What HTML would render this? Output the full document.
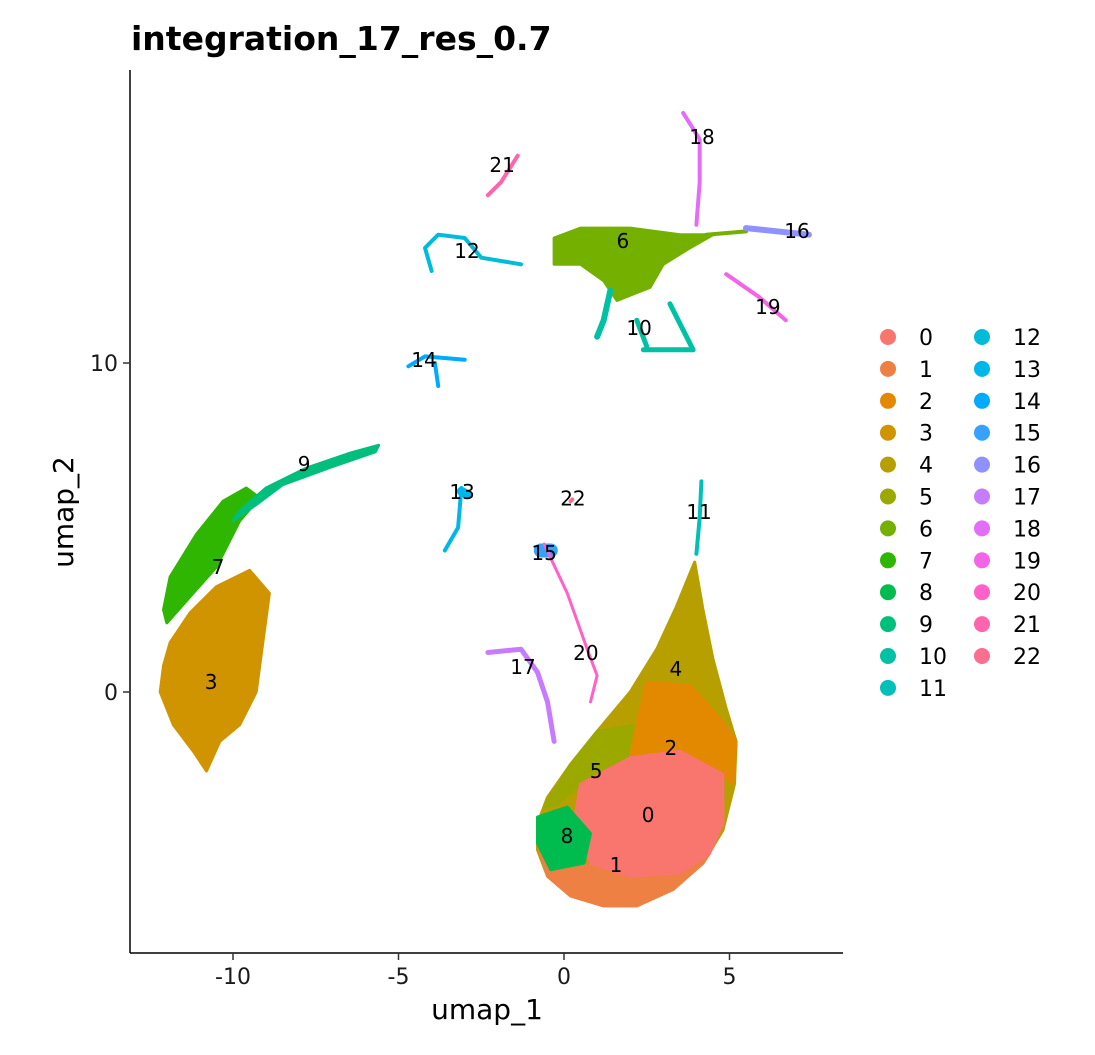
<!DOCTYPE html>
<html><head><meta charset="utf-8"><style>
body{margin:0;background:#fff;width:1095px;height:1050px;overflow:hidden}
svg text{font-family:"DejaVu Sans","Liberation Sans",sans-serif}
</style></head><body>
<svg id="chart" width="1095" height="1050" xmlns="http://www.w3.org/2000/svg">
<text x="131" y="50" font-size="33" font-weight="bold" fill="#000">integration_17_res_0.7</text>
<g id="plot"></g>
<g id="axes"></g>
<g id="legend"></g>
</svg>
<script>
const clusterIds=[0,1,2,3,4,5,6,7,8,9,10,11,12,13,14,15,16,17,18,19,20,21,22];
const clusterColors=["#F8766D","#EE8044","#E38900","#D09400","#B79F00","#9AA800","#74B000","#2FB600","#00BB4E","#00BF7D","#00C1A3","#00C0B8","#00BCD8","#00B6EB","#00ABFD","#35A2FF","#8F91FF","#C77CFF","#E26EF7","#F365E6","#FF61C9","#FF65AC","#FC6E8E"];
const xTicks=[-10,-5,0,5];
const yTicks=[0,10];
const shape4=[[3.95,3.95],[4.2,2.5],[4.5,1],[4.9,-0.5],[5.2,-1.5],[5.15,-2.8],[4.8,-4.2],[4.2,-5.2],[3.3,-6],[2.2,-6.5],[1.2,-6.5],[0.2,-6.2],[-0.5,-5.6],[-0.8,-4.8],[-0.8,-4],[-0.5,-3.2],[0.2,-2.2],[1,-1.2],[2,0],[2.8,1.3],[3.4,2.6]];
const shape5=[[1,-1.2],[2.2,-1],[2,-2],[0.5,-2.8],[-0.2,-3.4],[-0.6,-3.5],[0.2,-2.2]];
const shape2=[[2.5,0.3],[3.8,0.2],[4.7,-0.8],[5.2,-1.5],[5.1,-2.8],[4.8,-2.5],[3.5,-1.8],[2,-2],[2.2,-1]];
const shape0=[[0.5,-2.8],[2,-2],[3.5,-1.8],[4.8,-2.5],[4.8,-4],[4.4,-4.9],[3.5,-5.5],[2,-5.6],[0.8,-5.2],[0.3,-4]];
const shape1=[[-0.8,-4.6],[0.5,-5.2],[2,-5.6],[3.5,-5.5],[4.4,-4.9],[4.2,-5.2],[3.3,-6],[2.2,-6.5],[1.2,-6.5],[0.2,-6.2],[-0.5,-5.6]];
const shape8=[[-0.8,-3.8],[0.1,-3.5],[0.8,-4.3],[0.6,-5.2],[-0.4,-5.4],[-0.8,-4.6]];
const shape3=[[-11.9,1.5],[-11.3,2.4],[-10.5,3.2],[-9.5,3.7],[-8.9,3],[-9.1,1.5],[-9.3,0],[-9.8,-1],[-10.4,-1.5],[-10.8,-2.4],[-11.2,-1.8],[-11.8,-1],[-12.2,0],[-12.1,0.8]];
const shape7=[[-12,2.1],[-11.3,2.9],[-10.5,3.8],[-9.8,5.2],[-9.2,5.9],[-9.6,6.2],[-10.3,5.8],[-11.1,4.8],[-11.9,3.5],[-12.1,2.5]];
const shape9=[[-9.8,5.5],[-9,6.2],[-7.8,6.8],[-6.5,7.25],[-5.6,7.5],[-5.7,7.3],[-7,6.85],[-8.5,6.3],[-9.3,5.7],[-10,5.2]];
const shape6=[[-0.3,13.8],[0.5,14.1],[2,14.1],[3.5,13.9],[4.5,13.9],[3.8,13.5],[3,13],[2.6,12.3],[1.6,11.9],[1.2,12.5],[0.5,13],[-0.3,13]];
const regions=[
 [4,'area',0,shape4],[5,'area',0,shape5],[2,'area',0,shape2],[1,'area',0,shape1],[0,'area',0,shape0],[8,'area',0,shape8],
 [3,'area',0,shape3],[7,'area',0,shape7],[9,'area',0,shape9],[6,'area',0,shape6],
 [6,'line',4,[[4.3,13.9],[5.5,14]]],
 [10,'line',6,[[1.4,12.2],[1.2,11.3],[1,10.8]]],[10,'line',5,[[3.2,11.8],[3.6,11],[3.9,10.4],[2.4,10.4]]],[10,'line',5,[[2.2,11.3],[2.5,10.5]]],
 [11,'line',4,[[4.15,6.4],[4.1,5.3],[4,4.2]]],
 [12,'line',4,[[-4,12.8],[-4.2,13.5],[-3.8,13.9],[-3,13.8],[-2.5,13.2],[-1.3,13]]],
 [13,'line',4,[[-3.1,6.2],[-3.2,5],[-3.6,4.3]]],[13,'line',9,[[-3.1,6.1],[-2.9,6]]],
 [14,'line',4,[[-4.7,9.9],[-4.2,10.2],[-3,10.1]]],[14,'line',4,[[-3.9,10],[-3.8,9.3]]],
 [15,'line',14,[[-0.7,4.3],[-0.4,4.3]]],
 [16,'line',6,[[5.5,14.1],[7.4,13.9]]],
 [17,'line',5,[[-2.3,1.2],[-1.3,1.3],[-0.8,0.6],[-0.5,-0.3],[-0.3,-1.5]]],
 [18,'line',4,[[3.6,17.6],[4.1,16.8],[4.1,15.5],[4,14.2]]],
 [19,'line',4,[[4.9,12.7],[5.9,12],[6.7,11.3]]],
 [20,'line',3,[[-0.6,4.5],[0.1,3],[0.7,1.3],[1,0.5],[0.8,-0.3]]],
 [21,'line',4,[[-2.3,15.1],[-1.9,15.5],[-1.4,16.3]]],
 [22,'line',4,[[0.2,5.8],[0.25,5.85]]]
];
const labelX=[2.54,1.57,3.23,-10.66,3.38,0.97,1.78,-10.45,0.09,-7.85,2.27,4.08,-2.93,-3.08,-4.23,-0.60,7.04,-1.24,4.17,6.16,0.66,-1.87,0.27];
const labelY=[-3.74,-5.26,-1.70,0.30,0.70,-2.40,13.71,3.80,-4.38,6.93,11.06,5.47,13.40,6.08,10.09,4.22,14.01,0.76,16.87,11.70,1.19,16.02,5.88];

const NS='http://www.w3.org/2000/svg';
const sx=v=>564+v*33.1, sy=v=>692-v*32.9;
function mk(tag,attrs,parent){const e=document.createElementNS(NS,tag);for(const k in attrs)e.setAttribute(k,attrs[k]);parent.appendChild(e);return e;}
const plot=document.getElementById('plot');
regions.forEach(r=>{
 const pts=r[3].map(p=>sx(p[0]).toFixed(1)+','+sy(p[1]).toFixed(1)).join(' ');
 let el;
 if(r[1]==='area'){el=mk('polygon',{points:pts,fill:clusterColors[r[0]],stroke:clusterColors[r[0]],'stroke-width':3,'stroke-linejoin':'round'},plot);}
 else{el=mk('polyline',{points:pts,fill:'none',stroke:clusterColors[r[0]],'stroke-width':r[2],'stroke-linecap':'round','stroke-linejoin':'round'},plot);}
 
 
});
clusterIds.forEach((c,i)=>{
 const t=mk('text',{x:sx(labelX[i]),y:sy(labelY[i])+7,'font-size':20,'text-anchor':'middle',fill:'#000'},plot);
 t.textContent=String(c);
 
 
});
const axes=document.getElementById('axes');
let a=mk('line',{x1:130,y1:953,x2:843,y2:953,stroke:'#000','stroke-width':1.5},axes);


a=mk('line',{x1:130,y1:70,x2:130,y2:953,stroke:'#000','stroke-width':1.5},axes);


xTicks.forEach(v=>{
 const tk=mk('line',{x1:sx(v),y1:953,x2:sx(v),y2:960,stroke:'#333','stroke-width':1.5},axes);
 
 
 const t=mk('text',{x:sx(v),y:984,'font-size':22,'text-anchor':'middle',fill:'#1a1a1a'},axes);
 t.textContent=String(v);
 
 
});
yTicks.forEach(v=>{
 const tk=mk('line',{x1:123,y1:sy(v),x2:130,y2:sy(v),stroke:'#333','stroke-width':1.5},axes);
 
 
 const t=mk('text',{x:118,y:sy(v)+8,'font-size':22,'text-anchor':'end',fill:'#1a1a1a'},axes);
 t.textContent=String(v);
 
 
});
let xt=mk('text',{x:487,y:1019,'font-size':28,'text-anchor':'middle',fill:'#000'},axes);
xt.textContent='umap_1';


let yt=mk('text',{x:0,y:0,'font-size':28,'text-anchor':'middle',fill:'#000',transform:'translate(73,512) rotate(-90)'},axes);
yt.textContent='umap_2';


const leg=document.getElementById('legend');
clusterIds.forEach((c,i)=>{
 const col=i<12?0:1, row=i<12?i:i-12;
 const cx=col?982:888, cy=337+row*31.9;
 const g=mk('g',{},leg);
 
 
 mk('circle',{cx:cx,cy:cy,r:8,fill:clusterColors[i]},g);
 const t=mk('text',{x:cx+31,y:cy+8,'font-size':22,fill:'#000'},g);
 t.textContent=String(c);
});
</script>
</body></html>
